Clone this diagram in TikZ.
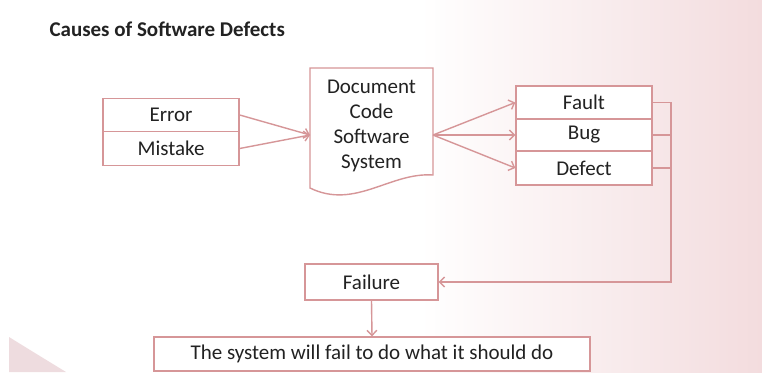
\documentclass[tikz,border=0pt]{standalone}
\usepackage{fontspec}
\setmainfont{Carlito}
\usetikzlibrary{arrows.meta}
\definecolor{linepink}{RGB}{214,150,152}
\definecolor{textgray}{RGB}{34,34,34}
\definecolor{bgpink}{RGB}{243,220,222}
\definecolor{swooshpink}{RGB}{238,220,223}
\tikzset{
  cell/.style={draw=linepink, line width=1.4pt, fill=white, text=textgray,
    minimum width=136pt, minimum height=33pt, inner sep=0pt,
    font=\fontsize{21}{25}\selectfont},
  link/.style={draw=linepink, line width=1.4pt},
  pinkarrow/.style={-{Straight Barb[length=5pt,width=10pt]}}
}
\begin{document}
\begin{tikzpicture}[x=1pt,y=-1pt]
\useasboundingbox (0,0) rectangle (762,372);
% Background
\fill[white] (0,0) rectangle (762,372);
\shade[left color=white, right color=bgpink] (420,0) rectangle (762,372);
\fill[swooshpink] (9,337) .. controls (30,350) .. (66,372) -- (9,372) -- cycle;
% Title
\node[anchor=base west, text=textgray, font=\fontsize{21}{25}\selectfont\bfseries]
  (title) at (46,36) {Causes of Software Defects};
% Human side
\node[cell, minimum height=33pt] (error) at (171,115) {Error};
\node[cell, minimum height=34pt] (mistake) at (171,148.5) {Mistake};
% Document shape
\draw[link, fill=white] (310,68) -- (433,68) -- (433,175)
  .. controls (390,172) and (355,210) .. (310,188) -- cycle;
\node[text=textgray, align=center, font=\fontsize{21}{24.7}\selectfont]
  (doc) at (371.5,126) {Document\\Code\\Software\\System};
\coordinate (docin) at (310,135);
\coordinate (docout) at (433,135);
% Outcomes
\node[cell, minimum height=33pt] (fault) at (584,102.5) {Fault};
\node[cell, minimum height=32pt] (bug) at (584,135) {Bug};
\node[cell, minimum height=34pt] (defect) at (584,168) {Defect};
\node[cell, minimum width=133pt, minimum height=36pt] (failure) at (371.5,282) {Failure};
\node[cell, minimum width=436pt, minimum height=34pt] (result) at (372,354)
  {The system will fail to do what it should do};
% Connectors
\draw[link, pinkarrow] (error.east) -- (docin);
\draw[link, pinkarrow] (mistake.east) -- (docin);
\foreach \t in {fault,bug,defect}
  \draw[link, pinkarrow] (docout) -- (\t.west);
\coordinate (bend) at (671,102.5);
\foreach \t in {bug,defect}
  \draw[link] (\t.east) -- (bend |- \t.east);
\draw[link, pinkarrow] (fault.east) -- (bend) |- (failure.east);
\draw[link, pinkarrow] (failure.south) -- (result.north);
\end{tikzpicture}
\end{document}
